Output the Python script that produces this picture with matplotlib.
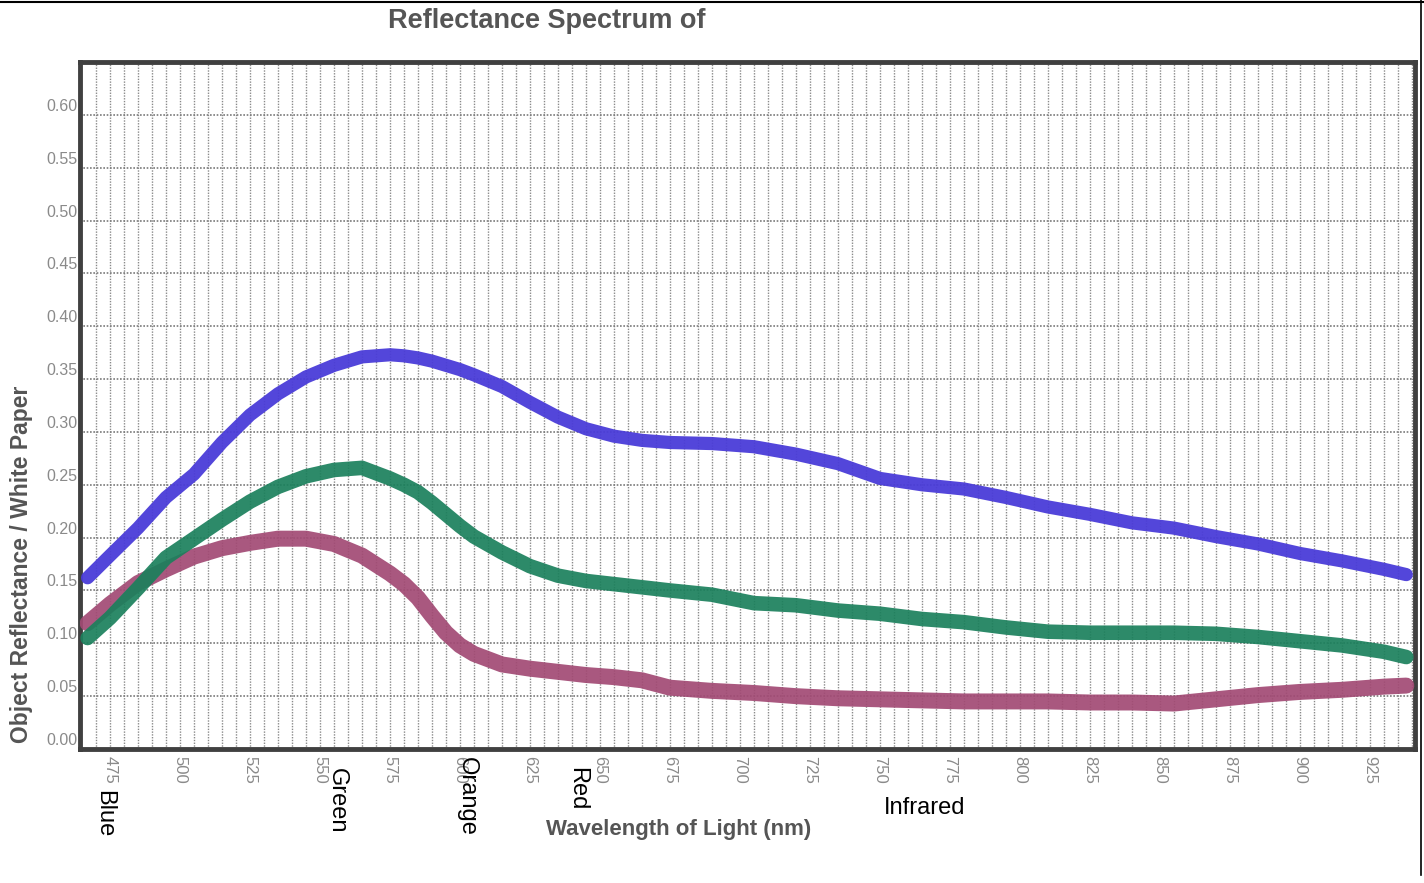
import numpy as np
import matplotlib
matplotlib.use("Agg")
import matplotlib.pyplot as plt
from matplotlib.transforms import ScaledTranslation, blended_transform_factory
from matplotlib.lines import Line2D

# ---------------- data ----------------
wavelength = [467, 475, 485, 495, 505, 515, 525, 535, 545, 555, 565, 575, 580, 585,
              590, 595, 600, 605, 615, 625, 635, 645, 655, 665, 675, 690, 705, 720,
              735, 750, 765, 780, 795, 810, 825, 840, 855, 870, 885, 900, 915, 930, 938]

blue_curve = [0.162, 0.183, 0.209, 0.238, 0.260, 0.290, 0.316, 0.336, 0.352, 0.363,
              0.371, 0.373, 0.372, 0.370, 0.367, 0.363, 0.359, 0.354, 0.343, 0.328,
              0.314, 0.303, 0.296, 0.292, 0.290, 0.289, 0.286, 0.279, 0.270, 0.256,
              0.250, 0.246, 0.238, 0.229, 0.222, 0.214, 0.209, 0.201, 0.194, 0.185,
              0.178, 0.170, 0.165]

green_curve = [0.105, 0.124, 0.152, 0.181, 0.199, 0.217, 0.234, 0.248, 0.258, 0.264,
               0.266, 0.256, 0.250, 0.243, 0.233, 0.222, 0.211, 0.201, 0.186, 0.173,
               0.164, 0.159, 0.156, 0.153, 0.150, 0.146, 0.138, 0.136, 0.131, 0.128,
               0.123, 0.120, 0.115, 0.111, 0.110, 0.110, 0.110, 0.109, 0.106, 0.102,
               0.098, 0.092, 0.087]

pink_curve = [0.119, 0.137, 0.157, 0.170, 0.182, 0.190, 0.195, 0.199, 0.199, 0.194,
              0.183, 0.166, 0.156, 0.143, 0.126, 0.110, 0.098, 0.090, 0.080, 0.076,
              0.073, 0.070, 0.068, 0.065, 0.058, 0.055, 0.053, 0.050, 0.048, 0.047,
              0.046, 0.045, 0.045, 0.045, 0.044, 0.044, 0.043, 0.047, 0.051, 0.054,
              0.056, 0.059, 0.060]

x_ticks = [475, 500, 525, 550, 575, 600, 625, 650, 675, 700, 725, 750, 775, 800,
           825, 850, 875, 900, 925]
y_ticks = [0.00, 0.05, 0.10, 0.15, 0.20, 0.25, 0.30, 0.35, 0.40, 0.45, 0.50, 0.55, 0.60]

color_names = ["Blue", "Green", "Orange", "Red"]
color_name_x = [473, 556, 602.5, 642]
infrared_x = 766

# ---------------- figure ----------------
W, H = 1424, 883
fig = plt.figure(figsize=(W / 100, H / 100), dpi=100)
fig.patch.set_facecolor("white")
L, R, T, B = 80, 1415, 62, 749
ax = fig.add_axes([L / W, 1 - B / H, (R - L) / W, (B - T) / H])

ax.set_xlim(464.3, 941.1)
ax.set_ylim(0, 0.65)

# grid
ax.set_yticks(y_ticks)
ax.set_xticks(x_ticks)
ax.grid(False)
for xv in np.arange(470, 941, 5):
    ax.axvline(xv, color="#8a8a8a", lw=1.0, ls=(0, (1, 1)), zorder=1)
for yv in y_ticks[1:]:
    ax.axhline(yv, color="#7a7a7a", lw=1.2, ls=(0, (1, 1)), zorder=1)

# curves
ax.plot(wavelength, pink_curve, color="#a24a74", lw=11.5, alpha=0.92,
        solid_capstyle="round", solid_joinstyle="round", zorder=3)
ax.plot(wavelength, green_curve, color="#1b805c", lw=10.5, alpha=0.92,
        solid_capstyle="round", solid_joinstyle="round", zorder=4)
ax.plot(wavelength, blue_curve, color="#4a3cd8", lw=9.5, alpha=0.95,
        solid_capstyle="round", solid_joinstyle="round", zorder=5)

# spines
for s in ax.spines.values():
    s.set_color("#404040")
    s.set_linewidth(3.5)

# ticks
ax.tick_params(axis="both", which="both", length=0)
ax.tick_params(axis="x", pad=5)
ax.tick_params(axis="y", pad=2)
ax.set_xticklabels([str(v) for v in x_ticks], rotation=-90, color="#8a8a8a",
                   fontsize=12, family=["Liberation Sans", "DejaVu Sans"])
ax.set_yticklabels([f"{v:.2f}" for v in y_ticks], color="#8a8a8a", fontsize=11.5,
                   family=["Liberation Sans Narrow", "Liberation Sans", "DejaVu Sans"])
off = ScaledTranslation(0, 0.10, fig.dpi_scale_trans)
for lab in ax.get_yticklabels():
    lab.set_transform(lab.get_transform() + off)

# colour names
tr = blended_transform_factory(ax.transData, ax.transAxes)
name_tops = [-0.0600, -0.0277, -0.0116, -0.026]
for name, xv, yt in zip(color_names, color_name_x, name_tops):
    ax.text(xv, yt, name, rotation=-90, ha="center", va="top", transform=tr,
            fontsize=17, color="black", family=["Liberation Sans", "DejaVu Sans"])
ax.text(infrared_x, -0.0859, "Infrared", ha="center", va="center", transform=tr,
        fontsize=17, color="black", family=["Liberation Sans", "DejaVu Sans"])

# axis labels and title
fig.text(679 / W, 1 - 830 / H, "Wavelength of Light (nm)", ha="center", va="center",
         fontsize=16, fontweight="bold", color="#555555",
         family=["Liberation Sans", "DejaVu Sans"])
fig.text(22 / W, 1 - 564 / H, "Object Reflectance / White Paper", ha="center",
         va="center", rotation=90, fontsize=16.5, fontweight="bold", color="#555555",
         family=["Liberation Sans", "DejaVu Sans"])
fig.text(547 / W, 1 - 21 / H, "Reflectance Spectrum of", ha="center", va="center",
         fontsize=19.5, fontweight="bold", color="#555555",
         family=["Liberation Sans", "DejaVu Sans"])

# scan border lines
fig.add_artist(Line2D([0, 1], [1 - 1.5 / H, 1 - 1.5 / H], color="black", lw=1.5,
                      transform=fig.transFigure))
fig.add_artist(Line2D([1420.5 / W, 1420.5 / W], [1 - 875 / H, 1], color="black", lw=1.2,
                      transform=fig.transFigure))

fig.savefig("out.png", dpi=100, facecolor="white")
